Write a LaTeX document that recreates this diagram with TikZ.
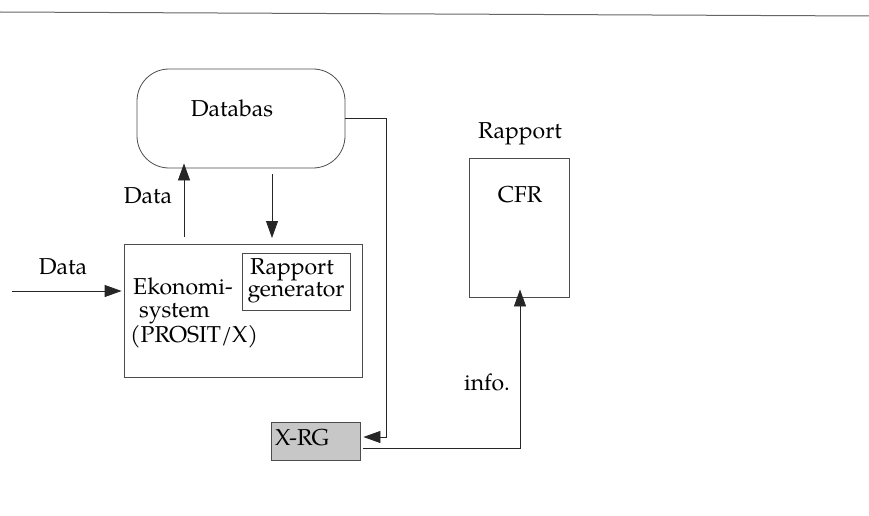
\documentclass[tikz,border=0pt]{standalone}
\usepackage{fontspec}
\setmainfont{TeX Gyre Pagella}
\usetikzlibrary{arrows.meta}

\tikzset{
  box/.style={draw=black!70, line width=0.8pt, inner sep=0pt},
  lbl/.style={inner sep=0pt, font=\fontsize{23}{24}\selectfont},
  wire/.style={draw=black!85, line width=0.8pt},
  arr/.style={wire, -{Triangle[length=17pt,width=12pt,fill=black!85]}},
}

\begin{document}
\begin{tikzpicture}[x=1pt,y=-1pt]
\useasboundingbox (0,0) rectangle (869,516);

% rule across the top
\coordinate (ruleL) at (0,12);
\coordinate (ruleR) at (869,16);
\draw[draw=black!60, line width=1pt] (ruleL) -- (ruleR);

% database
\node[box, rounded corners=32pt, minimum width=208pt, minimum height=99pt] (db) at (241,118.5) {};
\node[lbl, anchor=base] (dbt) at (232,117) {Databas};

% economy system with report generator
\node[box, minimum width=238pt, minimum height=133pt] (eko) at (243,310.5) {};
\node[box, minimum width=108pt, minimum height=57pt] (rg) at (296,281.5) {};
\node[lbl, anchor=base] (rg1) at (292,274) {Rapport};
\node[lbl, anchor=base] (rg2) at (296,296) {generator};
\node[lbl, anchor=base west] (eko1) at (133,294) {Ekonomi-};
\node[lbl, anchor=base west] (eko2) at (139,317) {system};
\node[lbl, anchor=base west] (eko3) at (130,342) {(PROSIT/X)};

% report
\node[lbl, anchor=base] (rap) at (520,138) {Rapport};
\node[box, minimum width=100pt, minimum height=139pt] (cfr) at (519,227.5) {};
\node[lbl, anchor=base] (cfrt) at (520,202) {CFR};

% X-RG
\node[box, fill=black!22, minimum width=89pt, minimum height=38pt] (xrg) at (315.5,441) {};
\node[lbl, anchor=base west] (xrgt) at (275,445) {X-RG};

% incoming data
\coordinate (din) at (12,291);
\node[lbl, anchor=base] (dinl) at (63,274) {Data};
\draw[arr] (din) -- ([xshift=-2pt]eko.west |- din);

% data up into the database
\coordinate (up0) at (184,237);
\draw[arr] (up0) -- ([yshift=5pt]db.south -| up0);
\node[lbl, anchor=base] (upl) at (148,203) {Data};

% database down to the report generator
\coordinate (dn0) at (272,174);
\coordinate (dn1) at (272,238);
\draw[arr] (dn0) -- (dn1);

% database to X-RG
\coordinate (c1) at (386,118.5);
\coordinate (c2) at (386,437);
\draw[arr] (db.east) -- (c1) -- (c2) -- ([xshift=3pt]xrg.east |- c2);

% X-RG to the report
\coordinate (i0) at (363,448);
\coordinate (i1) at (520,448);
\draw[arr] (i0) -- (i1) -- ([yshift=8pt]cfr.south -| i1);
\node[lbl, anchor=base] (info) at (487,390) {info.};
\end{tikzpicture}
\end{document}
